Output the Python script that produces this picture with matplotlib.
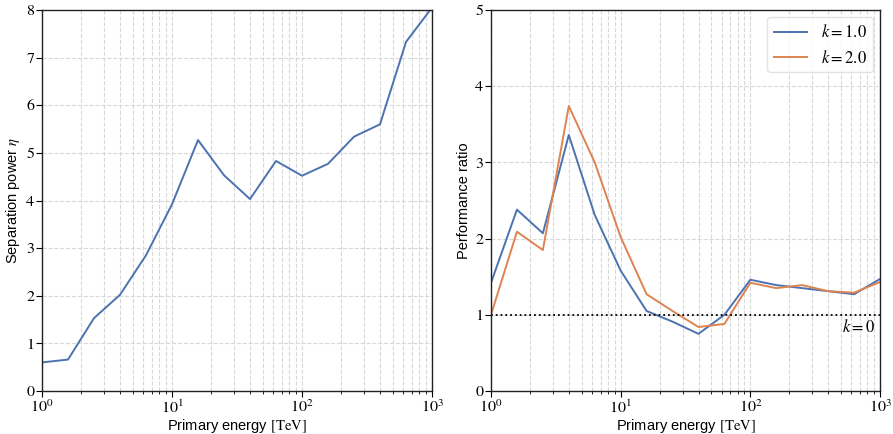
import matplotlib
matplotlib.use("Agg")
import matplotlib.pyplot as plt
import numpy as np

plt.rcParams['font.family'] = ['Liberation Sans', 'DejaVu Sans']
plt.rcParams['mathtext.fontset'] = 'stix'

energy = [1.0, 1.585, 2.512, 3.981, 6.310, 10.0, 15.85, 25.12, 39.81, 63.10,
          100.0, 158.5, 251.2, 398.1, 631.0, 1000.0]
eta = [0.60, 0.66, 1.53, 2.02, 2.85, 3.92, 5.27, 4.53, 4.03, 4.83,
       4.52, 4.77, 5.34, 5.60, 7.33, 8.05]
ratio_k1 = [1.42, 2.38, 2.07, 3.36, 2.31, 1.58, 1.05, 0.91, 0.75, 1.00,
            1.46, 1.39, 1.35, 1.31, 1.27, 1.47]
ratio_k2 = [1.00, 2.09, 1.85, 3.74, 3.00, 2.02, 1.27, 1.05, 0.84, 0.88,
            1.42, 1.35, 1.39, 1.31, 1.29, 1.43]
labels = [r'$k=1.0$', r'$k=2.0$']
colors = ['#4c72b0', '#dd8452']

fig = plt.figure(figsize=(8.93, 4.34), dpi=100)
ax1 = fig.add_axes([42/893, 1-391/434, 390/893, 381/434])
ax2 = fig.add_axes([491/893, 1-391/434, 389/893, 381/434])

def style(ax):
    ax.set_xscale('log')
    ax.set_xlim(1, 1000)
    ax.grid(True, which='major', axis='both', ls='--', color='#d8d8d8', lw=0.8)
    ax.grid(True, which='minor', axis='x', ls='--', color='#d8d8d8', lw=0.8)
    ax.set_axisbelow(True)
    for s in ax.spines.values():
        s.set_color('#222222')
        s.set_linewidth(1.0)
    ax.tick_params(direction='out', labelsize=11.5, length=4, pad=1.5)
    ax.tick_params(which='minor', length=2.5)
    for lab in ax.get_xticklabels() + ax.get_yticklabels():
        lab.set_fontfamily('STIXGeneral')
    ax.set_xlabel(r'Primary energy $[\mathrm{TeV}]$', fontsize=10.5, labelpad=1)

ax1.plot(energy, eta, color=colors[0], lw=1.4)
ax1.set_ylim(0, 8)
ax1.set_yticks(range(0, 9))
style(ax1)
ax1.set_ylabel(r'Separation power $\eta$', fontsize=10.5, labelpad=3)

ax2.plot(energy, ratio_k1, color=colors[0], lw=1.4, label=labels[0])
ax2.plot(energy, ratio_k2, color=colors[1], lw=1.4, label=labels[1])
ax2.axhline(1.0, color='black', ls=':', lw=1.3)
ax2.text(930, 0.96, r'$k=0$', ha='right', va='top', fontsize=12)
ax2.set_ylim(0, 5)
ax2.set_yticks(range(0, 6))
style(ax2)
ax2.set_ylabel('Performance ratio', fontsize=10.5, labelpad=3)
leg = ax2.legend(loc='upper right', fontsize=12, handlelength=2.0, frameon=True,
                 borderaxespad=0.4)
leg.get_frame().set_edgecolor('#dddddd')

fig.savefig('out.png', dpi=100)
